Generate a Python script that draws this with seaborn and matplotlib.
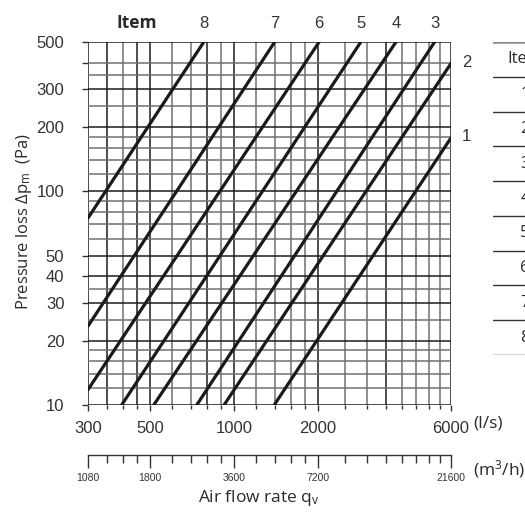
import numpy as np
import pandas as pd
import matplotlib
matplotlib.use("Agg")
import matplotlib.pyplot as plt
import matplotlib.transforms as mtrans
from matplotlib.ticker import FixedLocator, NullFormatter, NullLocator
import seaborn as sns

# ---------------- data ----------------
items = [1, 2, 3, 4, 5, 6, 7, 8]
q_start = [1395, 922, 736, 516, 396, 300, 300, 300]          # l/s
dp_start = [10, 10, 10, 10, 10, 11.8, 23.4, 75]              # Pa
q_end = [6000, 6000, 5240, 3810, 2850, 2020, 1400, 780]      # l/s
dp_end = [178, 397, 500, 500, 500, 500, 500, 500]            # Pa

x_grid = [300, 350, 400, 450, 500, 600, 700, 800, 900, 1000, 1200, 1400, 1600,
          1800, 2000, 2500, 3000, 3500, 4000, 4500, 5000, 5500, 6000]
x_grid_dark = [300, 350, 450, 500, 800, 1000, 2000, 3500, 6000]
y_grid = [10, 12, 14, 16, 18, 20, 25, 30, 35, 40, 50, 60, 70, 80, 90, 100, 120,
          140, 160, 180, 200, 250, 300, 350, 400, 500]
y_grid_dark = [10, 20, 30, 40, 50, 100, 200, 300, 500]

x_ticks = [300, 500, 1000, 2000, 6000]
x_tick_labels = ["300", "500", "1000", "2000", "6000"]
y_ticks = [10, 20, 30, 40, 50, 100, 200, 300, 400, 500]
y_tick_labels = ["10", "20", "30", "40", "50", "100", "200", "300", "", "500"]
m3h_ticks = [1080, 1800, 3600, 7200, 21600]
m3h_labels = ["1080", "1800", "3600", "7200", "21600"]
table_rows = ["1", "2", "3", "4", "5", "6", "7", "8"]

df = pd.DataFrame({
    "item": items + items,
    "q": q_start + q_end,
    "dp": dp_start + dp_end,
})

# ---------------- figure ----------------
sns.set_theme(style="white")
plt.rcParams["font.family"] = ["Liberation Sans", "DejaVu Sans"]
plt.rcParams["mathtext.fontset"] = "custom"
plt.rcParams["mathtext.rm"] = "Open Sans"
plt.rcParams["mathtext.it"] = "Open Sans"

W, H = 525, 512
fig = plt.figure(figsize=(W / 100, H / 100), dpi=100)
ax = fig.add_axes([88 / W, 1 - 405 / H, (451 - 88) / W, (405 - 42) / H])
ax.set_xscale("log")
ax.set_yscale("log")
ax.set_xlim(300, 6000)
ax.set_ylim(10, 500)

dark = "#1c1c1c"
grey = "#707070"
for g in x_grid:
    ax.axvline(g, color=dark if g in x_grid_dark else grey, lw=1.1, zorder=0)
for g in y_grid:
    ax.axhline(g, color=dark if g in y_grid_dark else grey, lw=1.1, zorder=0)

sns.lineplot(data=df, x="q", y="dp", units="item", estimator=None,
             color="#1a1a1a", lw=2.3, ax=ax, legend=False, zorder=3)

for s in ax.spines.values():
    s.set_visible(False)

ax.set_xlabel("")
ax.set_ylabel("")
ax.xaxis.set_major_locator(FixedLocator(x_ticks))
ax.set_xticklabels(x_tick_labels)
ax.xaxis.set_minor_locator(FixedLocator([g for g in x_grid if g not in x_ticks]))
ax.xaxis.set_minor_formatter(NullFormatter())
ax.yaxis.set_major_locator(FixedLocator(y_ticks))
ax.set_yticklabels(y_tick_labels)
ax.yaxis.set_minor_locator(NullLocator())

ax.tick_params(axis="x", which="major", bottom=True, length=4.5, width=1,
               color="#333333", pad=7, labelsize=12, labelcolor="#333333")
ax.tick_params(axis="x", which="minor", bottom=True, length=3, width=1,
               color="#333333")
ax.tick_params(axis="y", which="major", left=True, length=4, width=1,
               color="#333333", pad=13, labelsize=12, labelcolor="#333333")

# secondary (m3/h) axis
sec = ax.secondary_xaxis(-0.137, functions=(lambda x: x * 3.6, lambda x: x / 3.6))
sec.set_xticks(m3h_ticks)
sec.set_xticklabels(m3h_labels)
sec.xaxis.set_minor_locator(FixedLocator([g * 3.6 for g in x_grid if g not in x_ticks]))
sec.xaxis.set_minor_formatter(NullFormatter())
sec.tick_params(axis="x", which="major", length=9, width=1, color="#333333",
                pad=4, labelsize=7.5, labelcolor="#333333")
sec.tick_params(axis="x", which="minor", length=5.5, width=1, color="#333333")
sec.spines["bottom"].set_color("#333333")
sec.spines["bottom"].set_linewidth(1.0)

# ---------------- texts ----------------
def fx(px):
    return px / W

def fy(py):
    return 1 - py / H

lab_font = ["Open Sans", "DejaVu Sans"]
txt = "#2a2a2a"

fig.text(fx(137), fy(23), "Item", ha="center", va="center", fontsize=12.5,
         fontweight="bold", family=lab_font, color=txt)
top_tr = mtrans.blended_transform_factory(ax.transData, fig.transFigure)
for it, qe, de in zip(items, q_end, dp_end):
    if de >= 500:
        ax.text(qe, fy(23), str(it), transform=top_tr, ha="center", va="center",
                fontsize=12, color="#333333", clip_on=False)
    else:
        ax.annotate(str(it), xy=(qe, de), xytext=(8, 1), textcoords="offset points",
                    ha="left", va="center", fontsize=12, color="#333333",
                    annotation_clip=False)

fig.text(fx(24), fy(221), r"Pressure loss Δp$_{\mathrm{m}}$  (Pa)", rotation=90,
         ha="center", va="center", fontsize=12, family=lab_font, color=txt)
fig.text(fx(259), fy(498), r"Air flow rate q$_{\mathrm{v}}$", ha="center",
         va="center", fontsize=12.5, family=lab_font, color=txt)
fig.text(fx(473), fy(423), "(l/s)", ha="left", va="center", fontsize=12.5,
         family=lab_font, color=txt)
fig.text(fx(473), fy(469), r"(m$^{\mathrm{3}}$/h)", ha="left", va="center",
         fontsize=12.5, family=lab_font, color=txt)

# ---------------- cropped item table on the right ----------------
tab = fig.add_axes([493 / W, 1 - 355 / H, 64 / W, (355 - 42) / H])
tab.set_xlim(0, 1)
tab.set_ylim(9, 0)
tab.axis("off")
tab.axhline(0, color="#8a8a8a", lw=1.8)
for k in range(1, 10):
    tab.axhline(k, color="#333333", lw=1.0)
tab.text(0.5, 0.5, "Item", ha="center", va="center", fontsize=12,
         family=lab_font, color=txt)
for k, r in enumerate(table_rows):
    tab.text(0.5, k + 1.5, r, ha="center", va="center", fontsize=12,
             family=lab_font, color=txt)

fig.savefig("out.png", dpi=100)
